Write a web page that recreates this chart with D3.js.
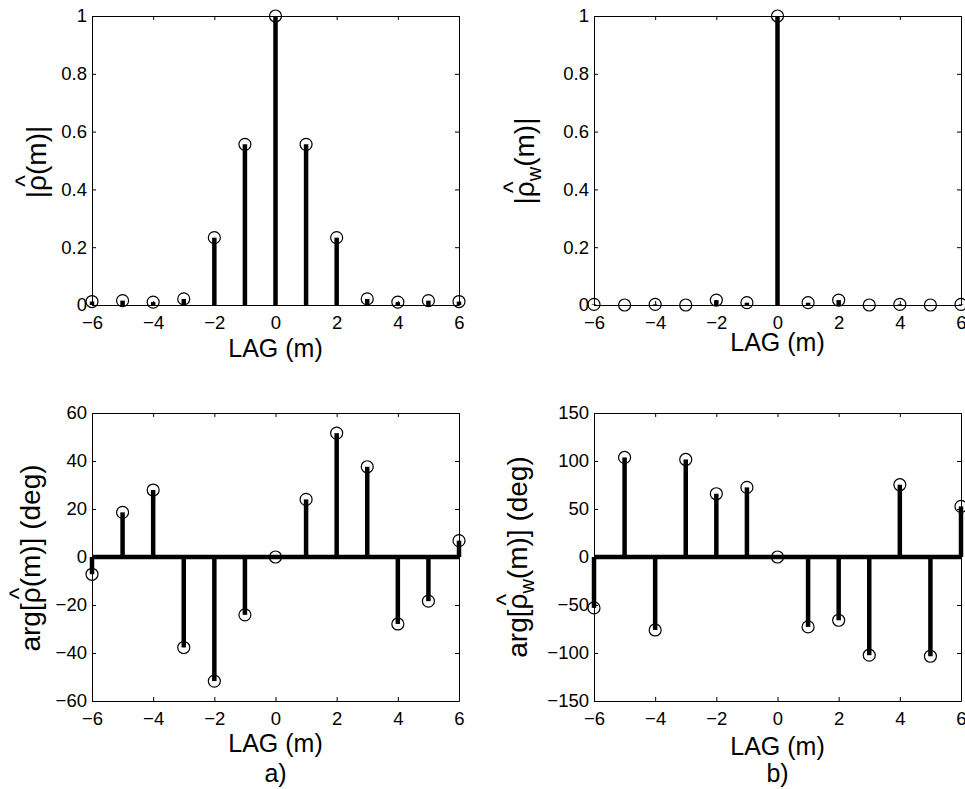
<!DOCTYPE html>
<html>
<head>
<meta charset="utf-8">
<script src="https://cdn.jsdelivr.net/npm/d3@7"></script>
<style>
  body { margin: 0; background: #fff; }
  svg { display: block; font-family: "Liberation Sans", Arial, Helvetica, sans-serif; }
</style>
</head>
<body>
<div id="chart"></div>
<script>
// lags and values
const lags = [-6, -5, -4, -3, -2, -1, 0, 1, 2, 3, 4, 5, 6];
const rhoMag = [0.012, 0.015, 0.010, 0.021, 0.233, 0.556, 1, 0.556, 0.233, 0.021, 0.010, 0.015, 0.012];
const rhoWMag = [0.002, 0, 0.002, 0, 0.017, 0.008, 1, 0.008, 0.017, 0, 0.002, 0, 0.002];
const rhoArg = [-7.2, 18.6, 27.9, -37.7, -51.7, -24.1, 0, 24.0, 51.6, 37.6, -27.9, -18.4, 6.8];
const rhoWArg = [-53, 103.7, -76, 101.6, 65.9, 72.5, 0, -72.8, -65.9, -102.3, 75.3, -103.4, 52.7];

const xTicks = [-6, -4, -2, 0, 2, 4, 6];
const magTicks = [0, 0.2, 0.4, 0.6, 0.8, 1];
const argTicks = [-60, -40, -20, 0, 20, 40, 60];
const argWTicks = [-150, -100, -50, 0, 50, 100, 150];

const width = 965, height = 789;
const fmt = d3.format("~g");

const svg = d3.select("#chart").append("svg")
  .attr("width", width)
  .attr("height", height);

const panels = [
  { left: 92, top: 16, right: 459, bottom: 305, yDomain: [0, 1], yTicks: magTicks, values: rhoMag,
    label: { pre: "|", sub: "", post: "(m)|", x: 46, y: 162 }, lagY: 357 },
  { left: 594, top: 16, right: 961, bottom: 305, yDomain: [0, 1], yTicks: magTicks, values: rhoWMag,
    label: { pre: "|", sub: "w", post: "(m)|", x: 534, y: 161 }, lagY: 351 },
  { left: 92, top: 413, right: 459, bottom: 701, yDomain: [-60, 60], yTicks: argTicks, values: rhoArg,
    label: { pre: "arg[", sub: "", post: "(m)] (deg)", x: 40, y: 558 }, lagY: 752, letter: "a)" },
  { left: 594, top: 413, right: 961, bottom: 701, yDomain: [-150, 150], yTicks: argWTicks, values: rhoWArg,
    label: { pre: "arg[", sub: "w", post: "(m)] (deg)", x: 527, y: 557 }, lagY: 755, letter: "b)" }
];

function drawPanel(p) {
  const x = d3.scaleLinear().domain([-6, 6]).range([p.left, p.right]);
  const y = d3.scaleLinear().domain(p.yDomain).range([p.bottom, p.top]);
  const g = svg.append("g");

  const styleAxis = (sel) => sel
    .attr("font-size", 18.5)
    .attr("font-family", null)
    .call(s => s.selectAll("text").attr("fill", "#000"))
    .call(s => s.selectAll("line,path").attr("stroke", "#000"));

  g.append("g")
    .attr("transform", "translate(0," + p.bottom + ")")
    .call(d3.axisBottom(x).tickValues(xTicks).tickSizeInner(-4).tickSizeOuter(0).tickPadding(11).tickFormat(fmt))
    .call(styleAxis);
  g.append("g")
    .attr("transform", "translate(0," + p.top + ")")
    .call(d3.axisTop(x).tickValues(xTicks).tickSizeInner(-4).tickSizeOuter(0).tickFormat(""))
    .call(styleAxis);
  g.append("g")
    .attr("transform", "translate(" + p.left + ",0)")
    .call(d3.axisLeft(y).tickValues(p.yTicks).tickSizeInner(-4).tickSizeOuter(0).tickPadding(5).tickFormat(fmt))
    .call(styleAxis);
  g.append("g")
    .attr("transform", "translate(" + p.right + ",0)")
    .call(d3.axisRight(y).tickValues(p.yTicks).tickSizeInner(-4).tickSizeOuter(0).tickFormat(""))
    .call(styleAxis);

  // thick zero baseline when zero sits inside the axes
  if (p.yDomain[0] < 0) {
    g.append("line")
      .attr("x1", x(lags[0])).attr("x2", x(lags[lags.length - 1]))
      .attr("y1", y(0)).attr("y2", y(0))
      .attr("stroke", "#000").attr("stroke-width", 4.5);
  }

  const pts = lags.map((m, i) => ({ m: m, v: p.values[i] }));

  g.selectAll("line.stem")
    .data(pts)
    .enter().append("line")
    .attr("class", "stem")
    .attr("x1", d => x(d.m)).attr("x2", d => x(d.m))
    .attr("y1", y(0)).attr("y2", d => y(d.v))
    .attr("stroke", "#000").attr("stroke-width", 4.5);

  g.selectAll("circle")
    .data(pts)
    .enter().append("circle")
    .attr("cx", d => x(d.m))
    .attr("cy", d => y(d.v))
    .attr("r", 6)
    .attr("fill", "none")
    .attr("stroke", "#000")
    .attr("stroke-width", 1.2);

  // y label with hat over rho
  const lb = p.label;
  const t = svg.append("text")
    .attr("transform", "translate(" + lb.x + "," + lb.y + ") rotate(-90)")
    .attr("text-anchor", "middle")
    .attr("font-size", 28)
    .attr("fill", "#000");
  t.append("tspan").text(lb.pre);
  t.append("tspan").text("ρ");
  if (lb.sub) {
    t.append("tspan").attr("font-size", 20).attr("dy", 7).text(lb.sub);
    t.append("tspan").attr("dy", -7).text(lb.post);
  } else {
    t.append("tspan").text(lb.post);
  }
  const ext = t.node().getExtentOfChar(lb.pre.length);
  svg.append("text")
    .attr("transform", "translate(" + lb.x + "," + lb.y + ") rotate(-90)")
    .attr("x", ext.x + ext.width / 2 + 2)
    .attr("y", -12)
    .attr("text-anchor", "middle")
    .attr("font-size", 25)
    .attr("fill", "#000")
    .text("^");

  svg.append("text")
    .attr("x", (p.left + p.right) / 2)
    .attr("y", p.lagY)
    .attr("text-anchor", "middle")
    .attr("font-size", 25)
    .attr("fill", "#000")
    .text("LAG (m)");

  if (p.letter) {
    svg.append("text")
      .attr("x", (p.left + p.right) / 2)
      .attr("y", 782)
      .attr("text-anchor", "middle")
      .attr("font-size", 25)
      .attr("fill", "#000")
      .text(p.letter);
  }
}

panels.forEach(drawPanel);
</script>
</body>
</html>
